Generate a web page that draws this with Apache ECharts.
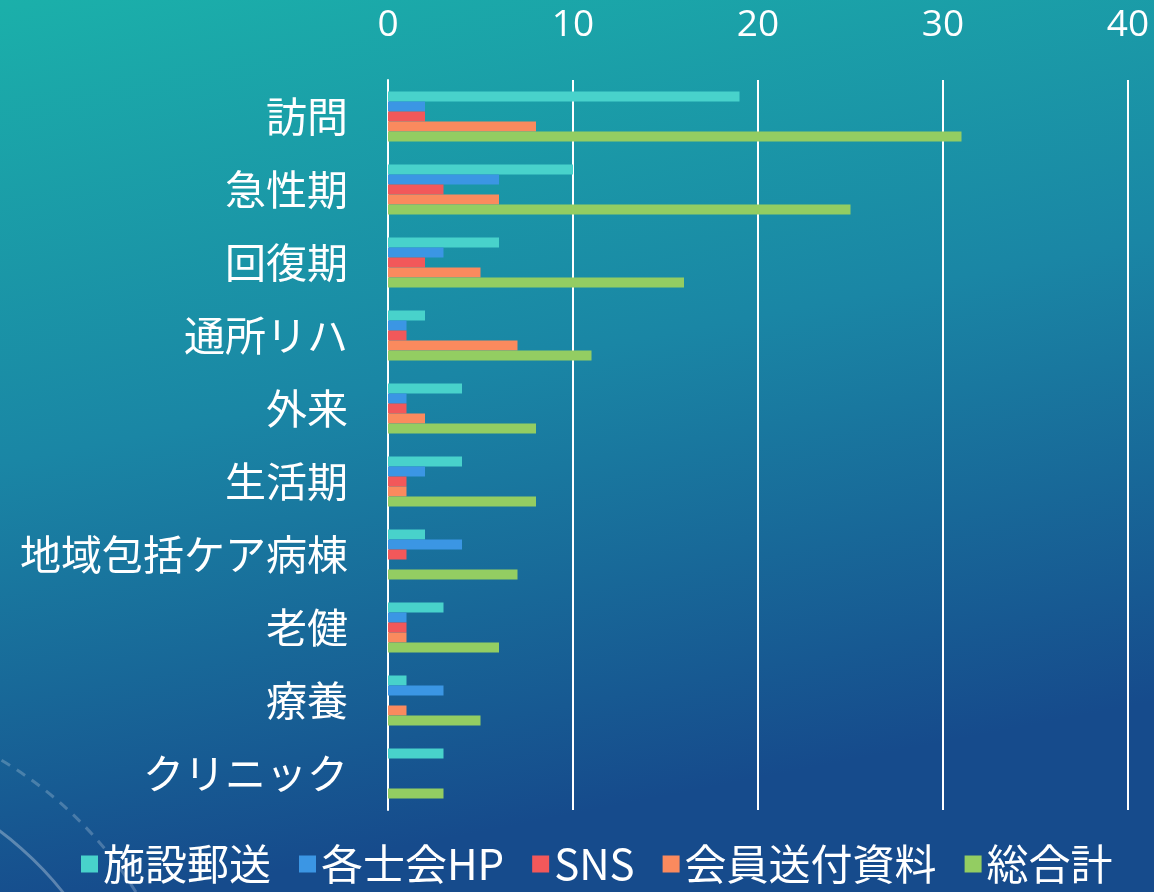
<!DOCTYPE html>
<html>
<head>
<meta charset="utf-8">
<script src="https://cdn.jsdelivr.net/npm/echarts@6/dist/echarts.min.js"></script>
<style>
  html, body { margin: 0; padding: 0; }
  #chart { width: 1154px; height: 892px; }
</style>
</head>
<body>
<div id="chart"></div>
<script>
// カテゴリ（上から順）
const categories = ['訪問', '急性期', '回復期', '通所リハ', '外来', '生活期', '地域包括ケア病棟', '老健', '療養', 'クリニック'];

// 各系列の値
const shisetsuYuso = [19, 10, 6, 2, 4, 4, 2, 3, 1, 3];
const shikaiHP = [2, 6, 3, 1, 1, 2, 4, 1, 3, 0];
const sns = [2, 3, 2, 1, 1, 1, 1, 1, 0, 0];
const kaiinShiryo = [8, 6, 5, 7, 2, 1, 0, 1, 1, 0];
const sogokei = [31, 25, 16, 11, 8, 8, 7, 6, 5, 3];

const seriesNames = ['施設郵送', '各士会HP', 'SNS', '会員送付資料', '総合計'];
const seriesData = [shisetsuYuso, shikaiHP, sns, kaiinShiryo, sogokei];
const seriesColors = ['#48d2cb', '#3b96e4', '#f2585a', '#fa8a5e', '#93cd62'];

const xTicks = [0, 10, 20, 30, 40];

const chart = echarts.init(document.getElementById('chart'));

chart.setOption({
  backgroundColor: {
    type: 'linear', x: 0, y: 0, x2: 0.15, y2: 1,
    colorStops: [
      { offset: 0, color: '#1bb0aa' },
      { offset: 0.5, color: '#1a86a5' },
      { offset: 1, color: '#164b8c' }
    ]
  },
  // 左下の装飾の弧
  graphic: [
    {
      type: 'arc',
      shape: { cx: -200, cy: 1100, r: 335, startAngle: -1.4, endAngle: -0.3 },
      style: { stroke: 'rgba(255,255,255,0.3)', lineWidth: 3, fill: null },
      silent: true
    },
    {
      type: 'arc',
      shape: { cx: -200, cy: 1100, r: 395, startAngle: -1.4, endAngle: -0.3 },
      style: { stroke: 'rgba(255,255,255,0.22)', lineWidth: 3, lineDash: [10, 8], fill: null },
      silent: true
    }
  ],
  animation: false,
  grid: { left: 388, right: 26, top: 80, bottom: 82 },
  legend: {
    bottom: 2,
    left: 76,
    itemWidth: 17,
    itemHeight: 17,
    itemGap: 28,
    icon: 'rect',
    data: seriesNames,
    textStyle: { color: '#ffffff', fontSize: 42, fontFamily: 'Noto Sans CJK JP' }
  },
  xAxis: {
    type: 'value',
    position: 'top',
    min: xTicks[0],
    max: xTicks[xTicks.length - 1],
    interval: 10,
    axisLine: { show: false },
    axisTick: { show: false },
    axisLabel: { color: '#ffffff', fontSize: 37, fontFamily: 'Open Sans', margin: 36 },
    splitLine: { show: true, lineStyle: { color: '#ffffff', width: 2 } }
  },
  yAxis: {
    type: 'category',
    inverse: true,
    data: categories,
    axisLine: { show: true, lineStyle: { color: '#ffffff', width: 2 } },
    axisTick: { show: false },
    axisLabel: { color: '#ffffff', fontSize: 41, fontFamily: 'Noto Sans CJK JP', margin: 40 }
  },
  series: seriesNames.map((name, i) => ({
    name: name,
    type: 'bar',
    data: seriesData[i],
    barWidth: 10,
    barGap: '0%',
    itemStyle: { color: seriesColors[i] }
  }))
});
</script>
</body>
</html>
